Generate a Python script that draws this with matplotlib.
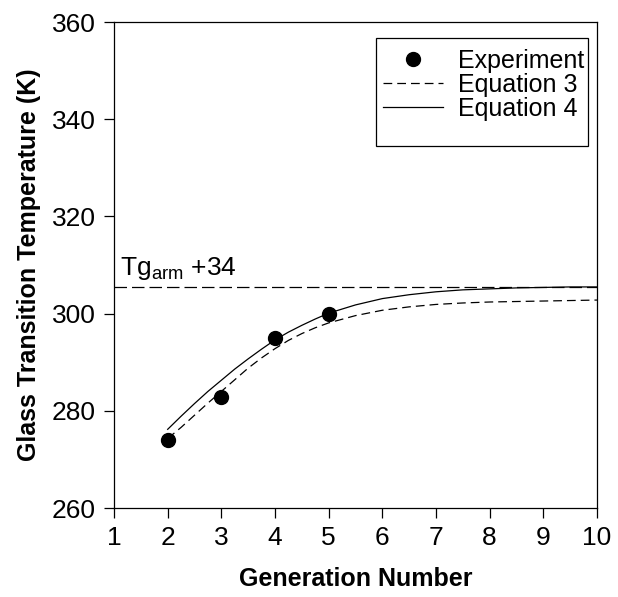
import matplotlib
matplotlib.use("Agg")
import matplotlib.pyplot as plt
from matplotlib.patches import Rectangle

plt.rcParams["font.family"] = ["Liberation Sans", "DejaVu Sans"]
plt.rcParams["mathtext.fontset"] = "custom"
plt.rcParams["mathtext.rm"] = "Liberation Sans"

# experimental points
gen_exp = [2, 3, 4, 5]
tg_exp = [274.1, 282.9, 294.9, 300.0]

# model curves
gen_fit = [2.0, 2.25, 2.5, 2.75, 3.0, 3.25, 3.5, 3.75, 4.0, 4.25, 4.5, 4.75,
           5.0, 5.5, 6.0, 6.5, 7.0, 7.5, 8.0, 8.5, 9.0, 9.5, 10.0]
tg_eq3 = [274.3, 276.6, 279.1, 281.6, 284.0, 286.4, 288.8, 290.9, 292.8,
          294.5, 295.9, 297.1, 298.1, 299.6, 300.7, 301.4, 301.9, 302.2,
          302.4, 302.5, 302.6, 302.7, 302.8]
tg_eq4 = [276.2, 278.9, 281.5, 284.0, 286.3, 288.6, 290.7, 292.7, 294.6,
          296.2, 297.6, 298.9, 300.1, 301.8, 303.1, 303.9, 304.5, 304.9,
          305.1, 305.3, 305.4, 305.5, 305.5]

tg_limit = 305.5  # Tg_arm + 34

fig = plt.figure(figsize=(6.18, 5.97), dpi=100, facecolor="white")
ax = fig.add_axes([0.1845, 0.149, 0.7815, 0.814])

ax.axhline(tg_limit, color="black", lw=0.9, dashes=(10, 4), zorder=1)
ax.plot(gen_fit, tg_eq3, color="black", lw=0.9, dashes=(7, 4),
        label="Equation 3", zorder=2)
ax.plot(gen_fit, tg_eq4, color="black", lw=0.9, label="Equation 4", zorder=2)
ax.plot(gen_exp, tg_exp, "o", color="black", ms=10, label="Experiment",
        zorder=3)

ax.text(1.12, 306.6, r"Tg$_{\rm arm}$ +34", fontsize=19, ha="left",
        va="bottom")

ax.set_xlim(1, 10)
ax.set_ylim(260, 360)
ax.set_xticks(range(1, 11))
ax.set_yticks(range(260, 361, 20))
ax.tick_params(direction="out", length=7, width=0.9, labelsize=19,
               top=False, right=False, pad=6)
for sp in ax.spines.values():
    sp.set_linewidth(0.9)

ax.set_xlabel("Generation Number", fontsize=18, fontweight="bold",
              labelpad=12)
ax.set_ylabel("Glass Transition Temperature (K)", fontsize=18,
              fontweight="bold", labelpad=8)

# legend box has more room below the last entry, so draw the frame by hand
ax.add_patch(Rectangle((0.542, 0.745), 0.439, 0.222, transform=ax.transAxes,
                       facecolor="white", edgecolor="black", lw=0.9,
                       zorder=4))
handles, labels = ax.get_legend_handles_labels()
order = [2, 0, 1]
leg = ax.legend([handles[i] for i in order], [labels[i] for i in order],
                loc="upper right", bbox_to_anchor=(0.973, 0.945),
                fontsize=18, frameon=False, borderaxespad=0, borderpad=0,
                handlelength=2.4, labelspacing=0.0, handletextpad=0.6)
leg.set_zorder(5)

fig.savefig("out.png", dpi=100, facecolor="white")
